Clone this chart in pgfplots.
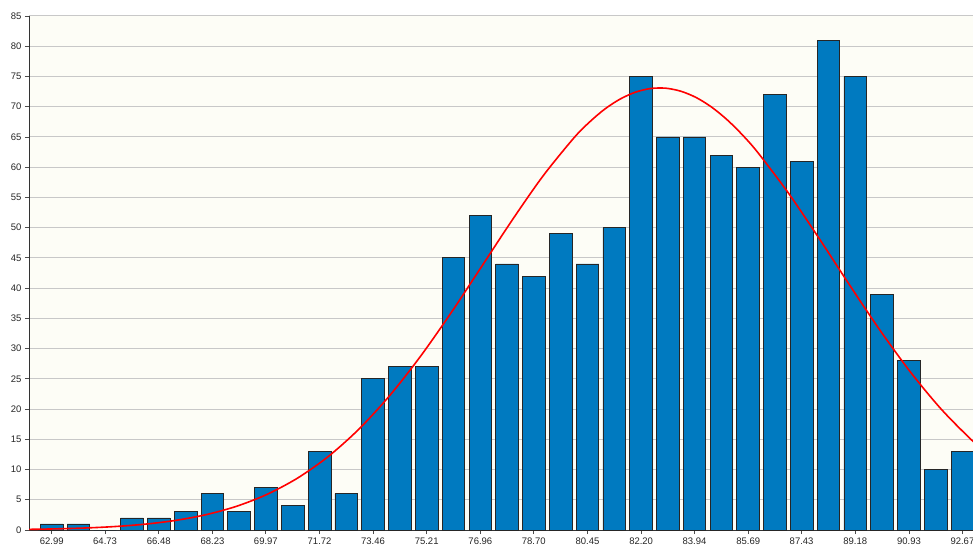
\documentclass[border=0pt]{standalone}
\usepackage{fontspec}
\setmainfont{Liberation Sans}
\usepackage{pgfplots}
\pgfplotsset{compat=1.18}

\definecolor{barblue}{RGB}{0,122,192}
\definecolor{plotbg}{RGB}{253,253,246}
\definecolor{gridgray}{RGB}{200,200,200}

\begin{document}
\begin{tikzpicture}
\useasboundingbox (0,0) rectangle (973pt,544pt);
\clip (0,0) rectangle (973pt,544pt);
\begin{axis}[
  at={(29pt,14pt)}, anchor=south west,
  scale only axis, width=961pt, height=514pt,
  xmin=62.25, xmax=93.57, ymin=0, ymax=85,
  axis lines*=left,
  axis line style={black!80, line width=1pt},
  axis background/.style={fill=plotbg},
  ymajorgrids, grid style={gridgray, line width=1pt},
  ytick={0,5,...,85},
  xtick={62.99,64.73,66.48,68.23,69.97,71.72,73.46,75.21,76.96,78.70,80.45,82.20,83.94,85.69,87.43,89.18,90.93,92.67},
  xticklabels={62.99,64.73,66.48,68.23,69.97,71.72,73.46,75.21,76.96,78.70,80.45,82.20,83.94,85.69,87.43,89.18,90.93,92.67},
  tick align=outside, major tick length=4pt,
  tick style={black!70, line width=0.8pt},
  ticklabel style={font=\fontsize{9.5}{10}\selectfont, black!85},
  /pgf/number format/assume math mode=true,
  clip=true,
]
% histogram counts per bin
\addplot[ybar, bar width=0.74, fill=barblue, draw=black!85, line width=0.8pt] coordinates {
  (62.99,1) (63.86,1) (64.73,0) (65.605,2) (66.48,2) (67.355,3)
  (68.23,6) (69.10,3) (69.97,7) (70.845,4) (71.72,13) (72.59,6)
  (73.46,25) (74.335,27) (75.21,27) (76.085,45) (76.96,52) (77.83,44)
  (78.70,42) (79.575,49) (80.45,44) (81.325,50) (82.20,75) (83.07,65)
  (83.94,65) (84.815,62) (85.69,60) (86.56,72) (87.43,61) (88.305,81)
  (89.18,75) (90.055,39) (90.93,28) (91.80,10) (92.67,13)
};
% fitted normal curve
\addplot[red, line width=1.6pt, smooth] coordinates {
  (62.25,0.110) (63,0.175) (64,0.317) (65,0.558) (66,0.949) (67,1.568)
  (68,2.512) (69,3.900) (70,5.874) (71,8.576) (72,12.14) (73,16.67)
  (74,22.20) (75,28.66) (76,35.88) (77,43.56) (78,51.27) (79,58.53)
  (80,64.79) (80.5,67.38) (81,69.55) (81.5,71.22) (82,72.38) (82.5,73.00)
  (83,73.06) (83.5,72.55) (84,71.50) (84.5,69.92) (85,67.85) (85.5,65.34)
  (86,62.44) (87,55.72) (88,48.22) (89,40.46) (90,32.92)
  (91,25.97) (92,19.87) (93,14.74) (93.57,12.30)
};
\end{axis}
\end{tikzpicture}
\end{document}
